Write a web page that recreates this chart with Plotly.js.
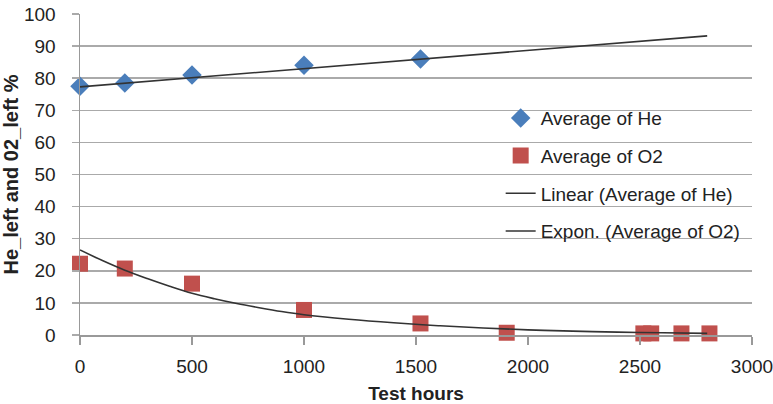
<!DOCTYPE html>
<html><head><meta charset="utf-8">
<script src="https://cdn.plot.ly/plotly-3.0.1.min.js"></script>
<style>html,body{margin:0;padding:0;background:#fff;}#chart{width:773px;height:404px;}</style>
</head><body><div id="chart"></div>
<script>
// Data
const heHours = [0, 200, 500, 1000, 1520];
const heValues = [77.5, 78.5, 81, 84, 86];
const o2Hours = [0, 200, 500, 1000, 1520, 1905, 2515, 2550, 2685, 2810];
const o2Values = [22.2, 20.7, 16, 7.8, 3.6, 0.7, 0.5, 0.5, 0.5, 0.5];
const linHours = [0, 2800];
const linValues = [77.3, 93.2];
const expHours = [0, 100, 200, 300, 400, 500, 600, 700, 800, 900, 1000, 1200, 1400, 1600, 1800, 2000, 2200, 2400, 2600, 2800];
const expValues = [26.5, 23.2, 20.2, 17.6, 15.2, 13.0, 11.3, 9.8, 8.5, 7.3, 6.3, 4.9, 3.8, 2.9, 2.2, 1.6, 1.2, 0.9, 0.7, 0.5];
const xTicks = [0, 500, 1000, 1500, 2000, 2500, 3000];
const yTicks = [0, 10, 20, 30, 40, 50, 60, 70, 80, 90, 100];

const txt = '#222';
const font = 'Arial, "Liberation Sans", sans-serif';
const traces = [
  {x: heHours, y: heValues, name: 'Average of He', mode: 'markers', type: 'scatter', cliponaxis: false,
   marker: {symbol: 'diamond', size: 15, color: '#4a7ebb'}, legendgroup: 'a'},
  {x: o2Hours, y: o2Values, name: 'Average of O2', mode: 'markers', type: 'scatter', cliponaxis: false,
   marker: {symbol: 'square', size: 16, color: '#c0504d'}, legendgroup: 'b'},
  {x: linHours, y: linValues, name: 'Linear (Average of He)', mode: 'lines', type: 'scatter',
   line: {color: '#333', width: 1.6}, legendgroup: 'c'},
  {x: expHours, y: expValues, name: 'Expon. (Average of O2)', mode: 'lines', type: 'scatter',
   line: {color: '#333', width: 1.6, shape: 'spline'}, legendgroup: 'd'}
];
const layout = {
  width: 773, height: 404,
  margin: {l: 80, r: 21, t: 14, b: 69},
  paper_bgcolor: '#fff', plot_bgcolor: '#fff',
  font: {family: font, color: txt, size: 19},
  showlegend: true,
  legend: {x: 0.626, y: 0.735, xanchor: 'left', yanchor: 'top', bgcolor: 'rgba(0,0,0,0)',
           font: {size: 19, color: txt}, traceorder: 'grouped', tracegroupgap: 10, itemwidth: 30},
  xaxis: {range: [0, 3000], tickvals: xTicks, ticks: 'outside', ticklen: 8, tickcolor: '#999',
          tickwidth: 1.5, showline: true, linecolor: '#999', linewidth: 1.5, showgrid: false,
          zeroline: false, ticklabelstandoff: 6, ticklabeloverflow: 'allow',
          title: {text: '<b>Test hours</b>', font: {size: 19, color: txt}, standoff: 10}},
  yaxis: {range: [0, 100], tickvals: yTicks, ticks: 'outside', ticklen: 7, tickcolor: '#aaa',
          tickwidth: 1.5, showline: true, linecolor: '#999', linewidth: 1.5, showgrid: true,
          gridcolor: '#aaa', gridwidth: 1.5, zeroline: false, ticklabelstandoff: 12,
          title: {text: '<b>He_left and 02_left %</b>', font: {size: 20, color: txt}, standoff: 0}}
};
Plotly.newPlot('chart', traces, layout, {displayModeBar: false, staticPlot: true});
</script></body></html>
